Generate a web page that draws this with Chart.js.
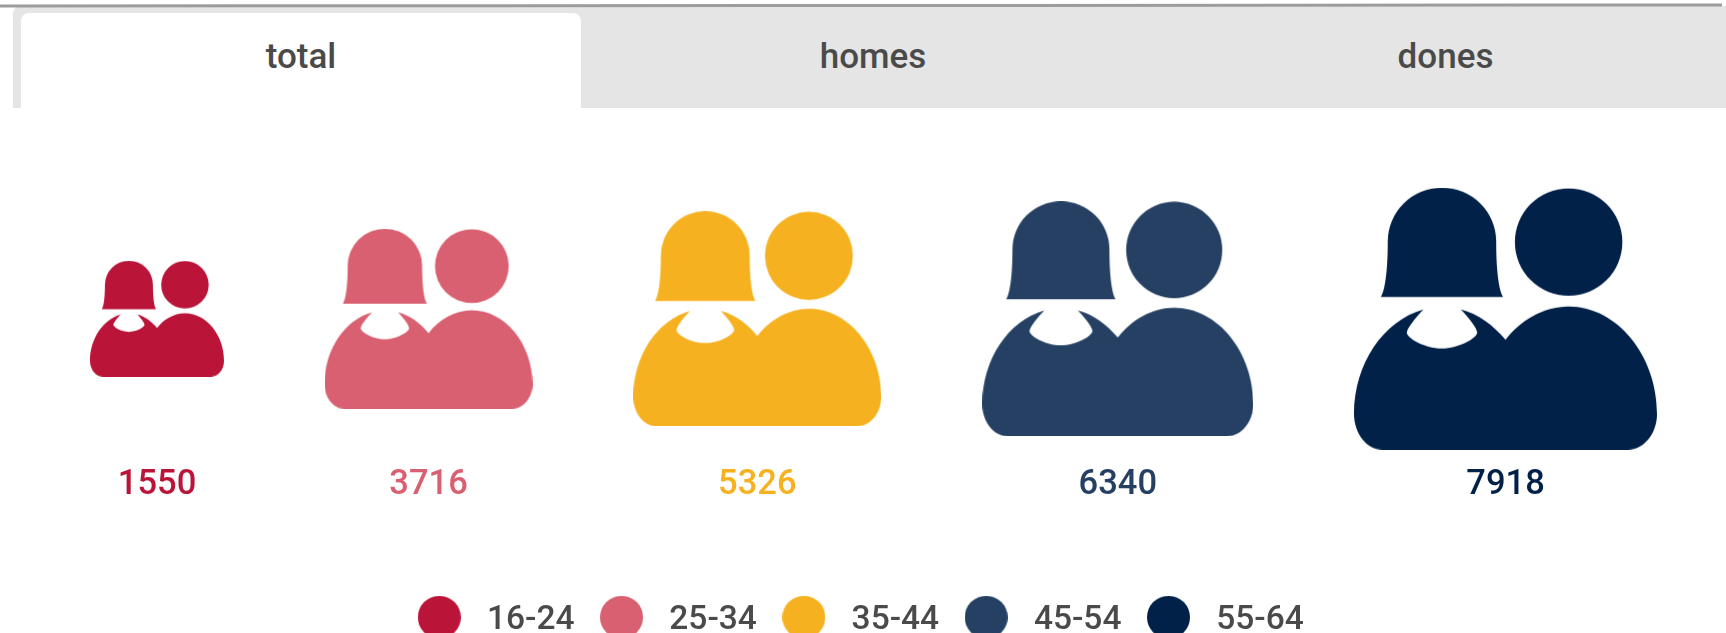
<!DOCTYPE html>
<html>
<head>
<meta charset="utf-8">
<title>total</title>
<script src="https://cdn.jsdelivr.net/npm/chart.js@4"></script>
<style>
  html, body { margin: 0; width: 1726px; height: 633px; overflow: hidden; background: #fff; font-family: Roboto, sans-serif; }
  .topline { position: absolute; left: 0; top: 4px; width: 1722px; height: 3px; background: #9c9c9c; transform: rotate(-0.035deg); }
  .tabs { position: absolute; left: 13px; top: 6px; right: 0; height: 102px; background: #e5e5e5; border-top-left-radius: 8px; }
  .tab { position: absolute; top: 7px; height: 95px; text-align: center; line-height: 87px; font-size: 35px; font-weight: 500; color: #4a4a4a; }
  .tab.active { background: #fff; border-radius: 8px 8px 0 0; }
  canvas { position: absolute; left: 0; top: 0; }
</style>
</head>
<body>
<div class="tabs">
  <div class="tab active" style="left:8px;width:560px">total</div>
  <div class="tab" style="left:568px;width:584px">homes</div>
  <div class="tab" style="left:1152px;width:561px">dones</div>
</div>
<div class="topline"></div>
<canvas id="peopleChart" width="1726" height="647"></canvas>
<script>
const ageGroups = ['16-24', '25-34', '35-44', '45-54', '55-64'];
const totals = [1550, 3716, 5326, 6340, 7918];
const colors = ['#ba1539', '#d96070', '#f6b121', '#254062', '#012148'];

// icon area follows the value, so width goes with the square root
const PX_PER_ROOT = 3.405;
const FIRST_LEFT = 90;
const GAP = 100.7;
const LABEL_Y = 485;
const CHART_WIDTH = 1726;
const LEGEND_SHIFT = 14; // legend sits a little left of centre

// outline traced from the biggest icon, in its own 908 x 786 box
const ICON_W = 908;
const ICON_H = 786;
const ICON_PATH = new Path2D(
  'M101 161 C101 248 93 308 80 328 L447 328 C434 308 426 248 426 161 A162.5 161 0 0 0 101 161 Z ' +
  'M482 163 A161 161 0 1 0 804 163 A161 161 0 1 0 482 163 Z ' +
  'M208 365 C88 398 0 528 0 678 C0 738 38 786 86 786 L820 786 C868 786 908 738 908 678 ' +
  'C908 503 788 356 643 356 C568 356 498 398 454 456 C418 413 373 378 320 365 ' +
  'C343 388 368 420 369 434 C369 450 315 482 263 482 C210 482 158 450 158 434 C160 420 185 388 208 365 Z'
);

function iconFor(value, color) {
  const canvas = document.createElement('canvas');
  const width = PX_PER_ROOT * Math.sqrt(value);
  canvas.width = Math.round(width);
  canvas.height = Math.round(width * ICON_H / ICON_W);
  const ctx = canvas.getContext('2d');
  ctx.scale(canvas.width / ICON_W, canvas.height / ICON_H);
  ctx.fillStyle = color;
  ctx.fill(ICON_PATH);
  return canvas;
}

// extra room under the dot lifts it 3px, the legend text sits lower than its middle
function dotFor(color) {
  const canvas = document.createElement('canvas');
  canvas.width = 43;
  canvas.height = 49;
  const ctx = canvas.getContext('2d');
  ctx.fillStyle = color;
  ctx.arc(21.5, 21.5, 21.5, 0, Math.PI * 2);
  ctx.fill();
  return canvas;
}

let cursor = FIRST_LEFT;
const datasets = ageGroups.map((group, i) => {
  const radius = PX_PER_ROOT * Math.sqrt(totals[i]) / 2;
  const x = cursor + radius;
  cursor += radius * 2 + GAP;
  return {
    label: group,
    data: [{ x, y: 0, r: radius }],
    backgroundColor: colors[i],
    pointStyle: iconFor(totals[i], colors[i]),
    clip: false
  };
});

const valueLabels = {
  id: 'valueLabels',
  afterDatasetsDraw(chart) {
    const { ctx } = chart;
    ctx.save();
    ctx.font = '500 34.5px Roboto';
    ctx.textAlign = 'center';
    ctx.textBaseline = 'middle';
    chart.data.datasets.forEach((dataset, i) => {
      const point = chart.getDatasetMeta(i).data[0];
      ctx.fillStyle = colors[i];
      ctx.fillText(String(totals[i]), point.x, LABEL_Y);
    });
    ctx.restore();
  }
};

new Chart(document.getElementById('peopleChart'), {
  type: 'bubble',
  data: { datasets },
  plugins: [valueLabels],
  options: {
    responsive: false,
    animation: false,
    events: [],
    layout: { autoPadding: false, padding: { top: 50, right: LEGEND_SHIFT } },
    scales: {
      x: { display: false, min: 0, max: CHART_WIDTH - LEGEND_SHIFT },
      y: { display: false, min: -1, max: 1 }
    },
    plugins: {
      tooltip: { enabled: false },
      legend: {
        position: 'bottom',
        labels: {
          usePointStyle: true,
          pointStyleWidth: 62,
          boxHeight: 33,
          padding: 16,
          color: '#4a4a4a',
          font: { family: 'Roboto', size: 33.5, weight: '500' },
          generateLabels: () => ageGroups.map((group, i) => ({
            text: group,
            pointStyle: dotFor(colors[i]),
            datasetIndex: i,
            fontColor: '#4a4a4a',
            lineWidth: 0,
            hidden: false
          }))
        }
      }
    }
  }
});
</script>
</body>
</html>
